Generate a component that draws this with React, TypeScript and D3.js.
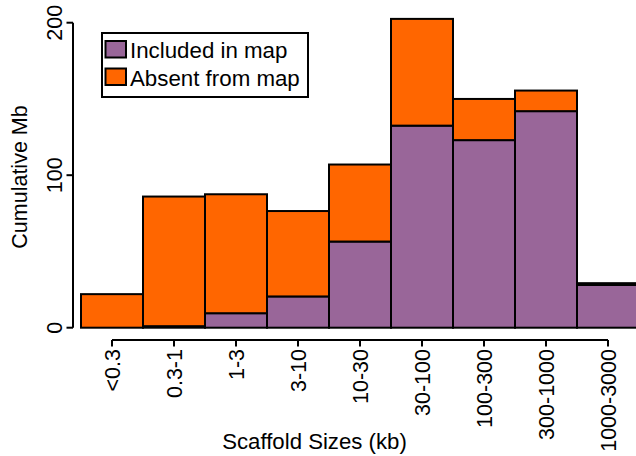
import React from "react";
import * as d3 from "d3";

const categories = ["<0.3", "0.3-1", "1-3", "3-10", "10-30", "30-100", "100-300", "300-1000", "1000-3000"];
const includedMb = [0, 1, 9.5, 20.5, 56.5, 132.5, 123, 142, 28];
const absentMb = [22, 85, 78, 56, 50.5, 70, 27, 13.5, 1.2];
const yTicks = [0, 100, 200];
const seriesNames = ["Included in map", "Absent from map"];
const seriesColors = ["#996699", "#FF6600"];

const W = 636;
const H = 456;
const FONT = "'Liberation Sans', Arial, Helvetica, sans-serif";

export default function App() {
  const x = d3.scaleBand<string>().domain(categories).range([81, 81 + 62 * categories.length]).paddingInner(0).paddingOuter(0);
  const y = d3.scaleLinear().domain([0, 200]).range([327.7, 22.7]);

  const stacked = categories.map((c, i) => ({
    cat: c,
    segs: [
      { key: 0, y0: 0, y1: includedMb[i] },
      { key: 1, y0: includedMb[i], y1: includedMb[i] + absentMb[i] },
    ],
  }));

  const firstC = x(categories[0])! + x.bandwidth() / 2;
  const lastC = x(categories[categories.length - 1])! + x.bandwidth() / 2;
  const axisY = 340;

  return (
    <svg width={W} height={H} style={{ position: "absolute", left: 0, top: 0, background: "#fff" }} fontFamily={FONT}>
      {stacked.map((d) =>
        d.segs.map((s) =>
          s.y1 - s.y0 > 0 ? (
            <rect
              key={d.cat + s.key}
              x={x(d.cat)!}
              y={y(s.y1)}
              width={x.bandwidth()}
              height={y(s.y0) - y(s.y1)}
              fill={seriesColors[s.key]}
              stroke="#000"
              strokeWidth={2}
            />
          ) : null
        )
      )}

      <line x1={73} x2={73} y1={y(200)} y2={y(0)} stroke="#000" strokeWidth={2} />
      {yTicks.map((t) => (
        <g key={t}>
          <line x1={66.5} x2={73} y1={y(t)} y2={y(t)} stroke="#000" strokeWidth={2} />
          <text transform={`translate(61.5,${y(t)}) rotate(-90)`} textAnchor="middle" fontSize={21.5} fill="#000">
            {t}
          </text>
        </g>
      ))}
      <text transform={`translate(27,177) rotate(-90)`} textAnchor="middle" fontSize={21.5} fill="#000">
        Cumulative Mb
      </text>

      <line x1={firstC} x2={lastC} y1={axisY} y2={axisY} stroke="#000" strokeWidth={2} />
      {categories.map((c) => {
        const cx = x(c)! + x.bandwidth() / 2;
        return (
          <g key={c}>
            <line x1={cx} x2={cx} y1={axisY} y2={axisY + 6.5} stroke="#000" strokeWidth={2} />
            <text transform={`translate(${cx + 7.5},${349}) rotate(-90)`} textAnchor="end" fontSize={21.5} fill="#000">
              {c}
            </text>
          </g>
        );
      })}
      <text x={314.5} y={449} textAnchor="middle" fontSize={22.2} fill="#000">
        Scaffold Sizes (kb)
      </text>

      <rect x={102} y={33} width={206} height={64} fill="#fff" stroke="#000" strokeWidth={2} />
      {seriesNames.map((n, i) => (
        <g key={n}>
          <rect x={105.5} y={41 + i * 27.5} width={20.5} height={16.5} fill={seriesColors[i]} stroke="#000" strokeWidth={2} />
          <text x={130} y={58.3 + i * 27.5} fontSize={22.3} fill="#000">
            {n}
          </text>
        </g>
      ))}
    </svg>
  );
}
